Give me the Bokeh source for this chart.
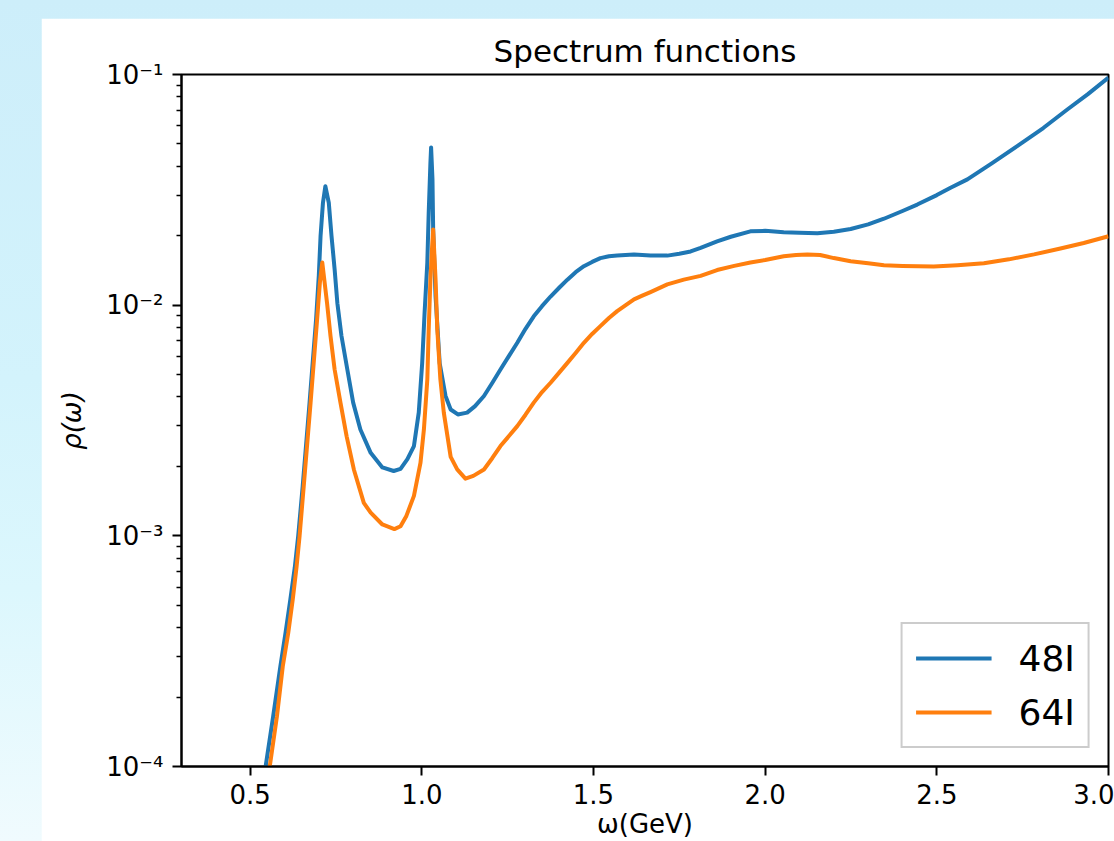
from bokeh.plotting import figure
from bokeh.models import (Range1d, FixedTicker, CustomJSTickFormatter, Legend, LegendItem, Spacer)
from bokeh.layouts import column, row
from bokeh.embed import file_html
from bokeh.resources import INLINE

# ---------------- data ----------------
omega_48 = [0.520, 0.545, 0.567, 0.588, 0.603, 0.617, 0.630, 0.640, 0.653, 0.673, 0.692,
            0.700, 0.705, 0.712, 0.719, 0.729, 0.737, 0.746, 0.754, 0.766, 0.783, 0.800,
            0.821, 0.851, 0.885, 0.918, 0.938, 0.958, 0.977, 0.991, 1.001, 1.008, 1.016,
            1.020, 1.025, 1.027, 1.031, 1.033, 1.040, 1.052, 1.069, 1.084, 1.105, 1.132,
            1.155, 1.181, 1.205, 1.229, 1.253, 1.278, 1.302, 1.326, 1.350, 1.375, 1.400,
            1.424, 1.448, 1.472, 1.496, 1.520, 1.545, 1.569, 1.618, 1.666, 1.715, 1.750,
            1.783, 1.812, 1.860, 1.900, 1.957, 2.000, 2.054, 2.100, 2.152, 2.200, 2.249,
            2.300, 2.346, 2.400, 2.443, 2.500, 2.540, 2.589, 2.660, 2.734, 2.810, 2.880,
            2.940, 3.000]
rho_48 = [5.6e-5, 1.0e-4, 1.65e-4, 2.72e-4, 3.8e-4, 5.3e-4, 7.3e-4, 1.0e-3, 1.64e-3, 3.78e-3,
          8.67e-3, 0.0135, 0.0199, 0.0278, 0.0328, 0.0278, 0.0199, 0.0143, 0.0102, 7.35e-3,
          5.26e-3, 3.78e-3, 2.89e-3, 2.29e-3, 1.98e-3, 1.91e-3, 1.95e-3, 2.15e-3, 2.45e-3,
          3.42e-3, 5.6e-3, 9.27e-3, 0.0153, 0.0251, 0.0414, 0.0483, 0.0351, 0.0213, 0.0109,
          5.6e-3, 4.04e-3, 3.53e-3, 3.36e-3, 3.42e-3, 3.65e-3, 4.04e-3, 4.6e-3, 5.26e-3,
          6.0e-3, 6.87e-3, 7.9e-3, 8.95e-3, 9.9e-3, 0.0109, 0.0119, 0.0129, 0.0139, 0.01476,
          0.0154, 0.0160, 0.0163, 0.0164, 0.0166, 0.0164, 0.0164, 0.0167, 0.0171, 0.0177,
          0.0189, 0.0198, 0.0209, 0.0210, 0.0207, 0.0206, 0.0205, 0.0208, 0.0214, 0.0224,
          0.0237, 0.0256, 0.0273, 0.0300, 0.0323, 0.0351, 0.0412, 0.0489, 0.0586, 0.0705,
          0.0822, 0.097]

omega_64 = [0.530, 0.557, 0.578, 0.595, 0.611, 0.624, 0.635, 0.644, 0.656, 0.676, 0.695,
            0.703, 0.710, 0.724, 0.734, 0.746, 0.763, 0.781, 0.802, 0.831, 0.851, 0.885,
            0.920, 0.938, 0.955, 0.977, 0.996, 1.006, 1.016, 1.020, 1.025, 1.030, 1.033,
            1.040, 1.045, 1.054, 1.064, 1.084, 1.103, 1.127, 1.150, 1.181, 1.205, 1.229,
            1.253, 1.278, 1.302, 1.326, 1.350, 1.375, 1.400, 1.424, 1.448, 1.472, 1.496,
            1.520, 1.545, 1.569, 1.594, 1.618, 1.642, 1.666, 1.715, 1.763, 1.812, 1.860,
            1.910, 1.957, 2.000, 2.054, 2.090, 2.123, 2.160, 2.200, 2.249, 2.300, 2.346,
            2.400, 2.491, 2.560, 2.637, 2.710, 2.783, 2.860, 2.928, 3.000]
rho_64 = [5.4e-5, 1.0e-4, 1.65e-4, 2.72e-4, 3.8e-4, 5.3e-4, 7.3e-4, 1.0e-3, 1.64e-3, 3.78e-3,
          8.67e-3, 0.0125, 0.0153, 0.0102, 7.35e-3, 5.26e-3, 3.78e-3, 2.7e-3, 1.94e-3, 1.39e-3,
          1.26e-3, 1.12e-3, 1.07e-3, 1.1e-3, 1.22e-3, 1.49e-3, 2.07e-3, 2.89e-3, 4.77e-3,
          7.85e-3, 0.0129, 0.018, 0.0213, 0.0129, 7.85e-3, 4.77e-3, 3.42e-3, 2.2e-3, 1.94e-3,
          1.77e-3, 1.82e-3, 1.94e-3, 2.17e-3, 2.45e-3, 2.7e-3, 2.99e-3, 3.35e-3, 3.78e-3,
          4.2e-3, 4.61e-3, 5.1e-3, 5.62e-3, 6.2e-3, 6.87e-3, 7.5e-3, 8.11e-3, 8.8e-3, 9.42e-3,
          0.0100, 0.0106, 0.0110, 0.0114, 0.0123, 0.0129, 0.0134, 0.0142, 0.0148, 0.0153,
          0.0157, 0.0163, 0.0165, 0.0166, 0.0165, 0.0160, 0.0155, 0.0152, 0.0149, 0.0148,
          0.0147, 0.0149, 0.0152, 0.0158, 0.0166, 0.0176, 0.0186, 0.0199]

series_names = ["48I", "64I"]
x_ticks = [0.5, 1.0, 1.5, 2.0, 2.5, 3.0]
y_major_ticks = [1e-4, 1e-3, 1e-2, 1e-1]

# ---------------- figure ----------------
FONT = "DejaVu Sans"
BLUE = "#1f77b4"
ORANGE = "#ff7f0e"

p = figure(width=1073, height=823, output_backend="svg", toolbar_location=None,
           x_range=Range1d(0.3, 3.0), y_range=Range1d(1e-4, 1e-1), y_axis_type="log",
           min_border_left=140, min_border_right=6, min_border_top=56, min_border_bottom=74,
           background_fill_color="white", border_fill_color="white")

p.title.text = "Spectrum functions"
p.title.align = "center"
p.title.text_font = FONT
p.title.text_font_size = "31px"
p.title.text_font_style = "normal"
p.title.text_color = "black"
p.title.standoff = 11

p.outline_line_color = "black"
p.outline_line_width = 2
p.outline_line_alpha = 1
p.xgrid.visible = False
p.ygrid.visible = False

r48 = p.line(omega_48, rho_48, line_color=BLUE, line_width=4, line_join="round")
r64 = p.line(omega_64, rho_64, line_color=ORANGE, line_width=4, line_join="round")

# x axis
xa = p.xaxis[0]
xa.ticker = FixedTicker(ticks=x_ticks)
xa.formatter = CustomJSTickFormatter(code="return tick.toFixed(1);")
xa.minor_tick_out = 0
xa.minor_tick_in = 0
xa.major_tick_out = 9
xa.major_tick_in = 0
xa.major_tick_line_width = 2
xa.axis_line_width = 2
xa.major_label_standoff = 8
xa.major_label_text_font = FONT
xa.major_label_text_font_size = "26px"
xa.major_label_text_color = "black"
xa.axis_label = "\u03c9(GeV)"
xa.axis_label_text_font = FONT
xa.axis_label_text_font_size = "26px"
xa.axis_label_text_font_style = "normal"
xa.axis_label_text_color = "black"
xa.axis_label_standoff = 2

# y axis
ya = p.yaxis[0]
ya.ticker = FixedTicker(ticks=y_major_ticks,
                        minor_ticks=[m * 10.0 ** e for e in range(-4, -1) for m in range(2, 10)])
ya.formatter = CustomJSTickFormatter(code="""
const sup = {"-": "\u207b", "0": "\u2070", "1": "\u00b9", "2": "\u00b2", "3": "\u00b3",
             "4": "\u2074", "5": "\u2075", "6": "\u2076", "7": "\u2077", "8": "\u2078", "9": "\u2079"};
const e = Math.round(Math.log10(tick));
return "10" + String(e).split("").map(c => sup[c]).join("");
""")
ya.major_tick_out = 9
ya.major_tick_in = 0
ya.minor_tick_out = 5
ya.minor_tick_in = 0
ya.major_tick_line_width = 2
ya.minor_tick_line_width = 1.5
ya.axis_line_width = 2
ya.major_label_standoff = 9
ya.major_label_text_font = FONT
ya.major_label_text_font_size = "26px"
ya.major_label_text_color = "black"
ya.axis_label = "\u03c1(\u03c9)"
ya.axis_label_text_font = FONT
ya.axis_label_text_font_size = "26px"
ya.axis_label_text_font_style = "italic"
ya.axis_label_text_color = "black"
ya.axis_label_standoff = 16

legend = Legend(items=[LegendItem(label=series_names[0], renderers=[r48]),
                       LegendItem(label=series_names[1], renderers=[r64])],
                location="bottom_right", margin=18, padding=13, spacing=12,
                glyph_width=76, glyph_height=42, label_height=42, label_standoff=27,
                label_text_font=FONT, label_text_font_size="36px", label_text_color="black",
                border_line_color="#cccccc", border_line_width=2, border_line_alpha=1,
                background_fill_color="white", background_fill_alpha=0.8)
p.add_layout(legend)

outer = column(Spacer(width=1114, height=18),
               row(Spacer(width=41, height=823), p, spacing=0),
               width=1114, height=841, spacing=0,
               styles={"background": "linear-gradient(to bottom, #cdeefa 0%, #d3f3fc 45%, #dcf7fd 70%, #f0fbfe 100%)"})

open("out.html", "w").write(file_html(outer, INLINE))
